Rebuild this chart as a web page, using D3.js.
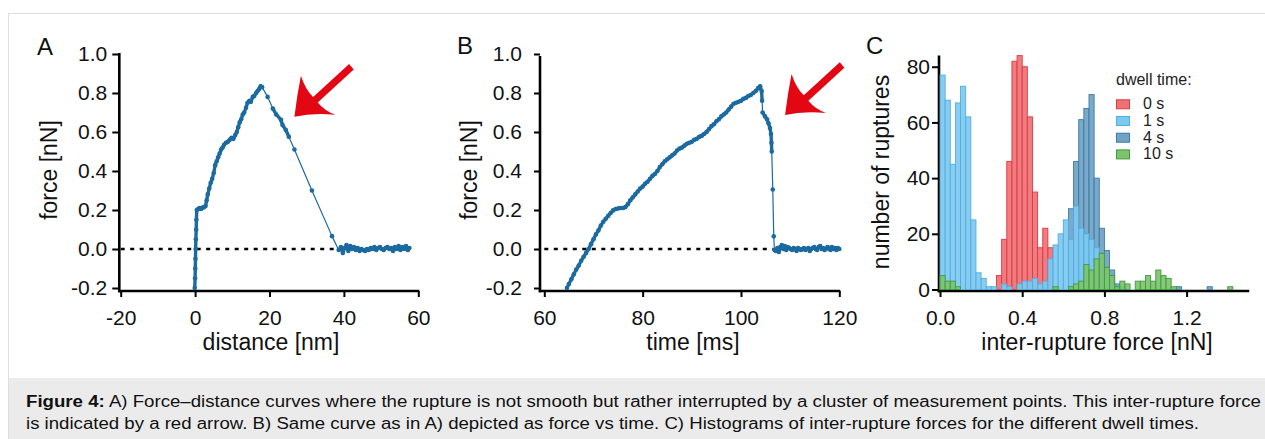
<!DOCTYPE html>
<html>
<head>
<meta charset="utf-8">
<title>Figure 4</title>
<script src="https://d3js.org/d3.v7.min.js"></script>
<style>
body { margin: 0; background: #fff; }
svg { display: block; font-family: "Liberation Sans", Arial, sans-serif; }
.axis line { stroke: #000; stroke-width: 2; }
.axis text { font-size: 21px; fill: #111; }
.title { font-size: 23px; fill: #111; }
</style>
</head>
<body>
<script>
// A) force vs distance
var distA = [-0.1,0.0,0.05,0.1,0.15,0.2,0.3,0.35,0.45,0.8,1.2,1.6,2.0,2.4,2.8,3.1,3.4,3.8,4.2,4.6,5.0,5.4,5.8,6.2,6.6,7.0,7.4,7.8,8.3,8.8,9.3,9.8,10.3,10.8,11.2,11.6,12.0,12.4,12.8,13.2,13.7,14.1,14.6,15.0,15.5,15.9,16.4,16.8,17.2,17.6,18.0,
  19.5,20.9,21.8,23.1,23.5,24.4,25.2,26.7,31.4,36.8,38.6,
  39.2,39.7,40.2,40.7,41.2,41.7,42.2,42.7,43.2,43.7,44.2,44.7,45.2,45.7,46.2,46.7,47.2,47.7,48.2,48.7,49.2,49.7,50.2,50.7,51.2,51.7,52.2,52.7,53.2,53.7,54.2,54.7,55.2,55.7,56.2,56.7,57.2,57.6];
var forceA = [-0.2,-0.15,-0.1,-0.05,0.0,0.05,0.1,0.15,0.2,0.205,0.21,0.205,0.212,0.215,0.22,0.25,0.28,0.31,0.34,0.36,0.39,0.43,0.45,0.47,0.49,0.51,0.52,0.535,0.545,0.55,0.56,0.57,0.565,0.585,0.6,0.625,0.65,0.665,0.69,0.7,0.725,0.75,0.76,0.755,0.78,0.785,0.8,0.81,0.82,0.835,0.83,
  0.78,0.72,0.69,0.662,0.636,0.61,0.576,0.51,0.30,0.066,-0.005,
  0.01,-0.02,0.005,0.02,-0.01,0.015,0.0,0.01,-0.005,0.005,-0.01,0.0,-0.005,-0.01,0.0,-0.005,0.005,0.0,0.01,-0.005,0.005,0.01,0.0,-0.005,0.005,0.01,0.0,0.005,-0.01,0.01,0.0,0.015,-0.005,0.01,0.0,0.015,-0.005,0.005];

// B) force vs time
var timeB = [64.6,65.0,65.5,66.0,66.5,67.0,67.5,68.0,68.5,69.0,69.5,70.0,70.5,71.0,71.5,72.0,72.5,73.0,73.5,74.0,74.5,75.0,75.5,76.0,76.5,77.0,77.5,78.0,78.5,79.0,79.5,80.0,80.5,81.0,81.5,82.0,82.5,83.0,83.5,84.0,84.5,85.0,85.5,86.0,86.5,87.0,87.5,88.0,88.5,89.0,89.5,90.0,90.5,91.0,91.5,92.0,92.5,93.0,93.5,94.0,94.5,95.0,95.5,96.0,96.5,97.0,97.5,98.0,98.5,99.0,99.5,100.0,100.5,101.0,101.5,102.0,102.5,103.0,103.5,103.9,104.2,
  104.3,104.4,104.9,105.3,105.6,105.9,106.1,106.2,106.26,106.47,106.67,106.8,
  107.1,107.4,107.7,108.0,108.3,108.6,108.9,109.2,109.5,109.8,110.1,110.4,110.7,111.0,111.3,111.6,111.9,112.2,112.5,112.8,113.1,113.4,113.7,114.0,114.3,114.6,114.9,115.2,115.5,115.8,116.1,116.4,116.7,117.0,117.3,117.6,117.9,118.2,118.5,118.8,119.1,119.4,119.7,120.0];
var forceB = [-0.2,-0.18,-0.155,-0.13,-0.105,-0.085,-0.06,-0.04,-0.02,0.0,0.025,0.05,0.075,0.095,0.12,
  0.14,0.155,0.17,0.185,0.198,0.205,0.208,0.21,0.21,0.215,0.23,0.25,0.265,0.28,0.295,0.31,0.32,0.335,0.345,0.36,
  0.375,0.385,0.4,0.42,0.435,0.45,0.46,0.47,0.48,0.49,0.505,0.515,0.52,0.53,0.54,0.545,0.55,0.56,0.565,0.575,
  0.58,0.59,0.6,0.615,0.63,0.64,0.655,0.665,0.68,0.69,0.7,0.715,0.73,0.745,0.75,0.755,0.76,0.77,0.775,0.785,
  0.79,0.8,0.81,0.825,0.835,0.81,
  0.76,0.70,0.68,0.665,0.645,0.62,0.59,0.545,0.5,0.305,0.065,-0.005,
  -0.01,0.005,-0.015,0.01,0.02,0.0,0.015,-0.005,0.01,0.005,0.0,-0.005,0.005,0.0,-0.01,0.005,0.0,-0.005,0.0,0.005,
  -0.005,0.0,0.005,-0.01,0.0,0.005,0.01,0.0,-0.005,0.01,0.015,0.0,0.005,-0.005,0.0,0.01,0.005,-0.005,0.01,0.0,
  0.005,-0.005,0.005,0.0];

// C) histograms, bins of 0.025 nN starting at 0
var binWidth = 0.025;
var counts0s = [0,0,0,0,0,0,0,0,0,0, 0,5,18,46,82,84,80,62,35,15, 22,15,0,0,0,0,0,0,0,0, 0,0,0,0,0,0,0,0,0,0, 0,0,0,0,0,0,0,0,0,0, 0,0,0,0,0,0,0,0,0,0];
var counts1s = [77,68,45,67,73,62,25,6,4,1, 1,0,2,1,0,2,3,3,4,2, 3,11,16,20,25,18,30,22,20,18, 15,10,5,2,1,1,0,0,0,0, 0,0,0,0,0,0,0,0,0,0, 0,0,0,0,0,0,0,0,0,0];
var counts4s = [0,0,0,0,0,0,0,0,0,0, 0,0,0,0,0,0,0,0,0,0, 0,0,0,0,0,29,46,61,65,70, 40,22,14,7,2,1,0,0,0,0, 0,0,0,0,0,0,1,0,0,0, 0,0,1,0,0,0,0,0,0,0];
var counts10s = [5,3,3,1,0,0,0,0,0,0, 0,0,0,0,0,0,0,0,0,0, 0,0,1,0,0,1,2,3,9,7, 11,13,8,5,1,3,2,0,3,3, 5,3,7,5,4,1,0,0,0,0, 0,0,0,0,0,0,1,0,0,0];
var dwellLabels = ['0 s', '1 s', '4 s', '10 s'];

var ticksDist = [-20, 0, 20, 40, 60];
var ticksTime = [60, 80, 100, 120];
var ticksForce = [-0.2, 0.0, 0.2, 0.4, 0.6, 0.8, 1.0];
var ticksIrf = [0.0, 0.4, 0.8, 1.2];
var ticksCount = [0, 20, 40, 60, 80];

var caption1 = ' A) Force\u2013distance curves where the rupture is not smooth but rather interrupted by a cluster of measurement points. This inter-rupture force';
var caption2 = 'is indicated by a red arrow. B) Same curve as in A) depicted as force vs time. C) Histograms of inter-rupture forces for the different dwell times.';

var traceColor = '#1b6aa0';
var histFill = ['#ee7176', '#7dc9f1', '#6fa2c4', '#7dc36e'];
var histStroke = ['#e0393f', '#52ade0', '#3d7ba5', '#3f9b3f'];

var svg = d3.select('body').append('svg')
  .attr('width', 1265)
  .attr('height', 439);

// figure frame and caption band
svg.append('rect')
  .attr('x', 8.5).attr('y', 13.5)
  .attr('width', 1270).attr('height', 440)
  .attr('fill', 'none').attr('stroke', '#dedede');
svg.append('rect')
  .attr('x', 9).attr('y', 378)
  .attr('width', 1256).attr('height', 61)
  .attr('fill', '#ebebeb');

var cap = svg.append('text')
  .attr('x', 26).attr('y', 407)
  .attr('font-size', 16).attr('fill', '#111')
  .attr('textLength', 1235).attr('lengthAdjust', 'spacingAndGlyphs');
cap.append('tspan').attr('font-weight', 'bold').text('Figure 4:');
cap.append('tspan').text(caption1);
svg.append('text')
  .attr('x', 26).attr('y', 429)
  .attr('font-size', 16).attr('fill', '#111')
  .attr('textLength', 1173).attr('lengthAdjust', 'spacingAndGlyphs')
  .text(caption2);

var fmt1 = function(d) { return d.toFixed(1); };
var fmt0 = function(d) { return String(d); };

function axes(x, y, opt) {
  var gy = svg.append('g')
    .attr('class', 'axis')
    .attr('transform', 'translate(' + opt.x0 + ',0)')
    .call(d3.axisLeft(y).tickValues(opt.yTicks).tickFormat(opt.yFmt)
      .tickSize(opt.yTick).tickPadding(opt.yPad));
  gy.select('.domain').remove();
  var gx = svg.append('g')
    .attr('class', 'axis')
    .attr('transform', 'translate(0,291)')
    .call(d3.axisBottom(x).tickValues(opt.xTicks).tickFormat(opt.xFmt)
      .tickSize(6).tickPadding(13));
  gx.select('.domain').remove();
  svg.append('line')
    .attr('x1', opt.x0).attr('x2', opt.x0)
    .attr('y1', opt.yTop).attr('y2', 292.3)
    .attr('stroke', '#000').attr('stroke-width', 2.6);
  svg.append('line')
    .attr('x1', opt.x0 - 1.3).attr('x2', x.range()[1] + 1)
    .attr('y1', 291).attr('y2', 291)
    .attr('stroke', '#000').attr('stroke-width', 2.6);
}

function title(text, x, y, rotate) {
  svg.append('text')
    .attr('class', 'title')
    .attr('text-anchor', 'middle')
    .attr('transform', 'translate(' + x + ',' + y + ')' + (rotate ? ' rotate(-90)' : ''))
    .text(text);
}

function letter(text, x, y) {
  svg.append('text')
    .attr('x', x).attr('y', y)
    .attr('font-size', 24).attr('fill', '#111')
    .text(text);
}

// red swoosh arrow, drawn relative to its tip
var arrowPath = 'M0,0 Q2.5,-21 6.5,-41 Q11,-27 18.7,-19.7 L54.7,-52.7 L59.3,-47.3 L23.3,-14.3 Q30,-6 41,-2 Q19,-4.5 0,0 Z';
function arrow(x, y) {
  svg.append('path')
    .attr('d', arrowPath)
    .attr('transform', 'translate(' + x + ',' + y + ')')
    .attr('fill', '#e30613');
}

function trace(x, y, xs, ys, zeroEnd) {
  var pts = d3.zip(xs, ys);
  svg.append('line')
    .attr('x1', x(x.domain()[0])).attr('x2', x(zeroEnd))
    .attr('y1', y(0)).attr('y2', y(0))
    .attr('stroke', '#000').attr('stroke-width', 2.4)
    .attr('stroke-dasharray', '4,5.5');
  // densely sampled stretches read as a thick line, sparse ones as a thin one
  var segs = d3.pairs(pts);
  svg.append('g')
    .selectAll('line')
    .data(segs)
    .enter().append('line')
    .attr('x1', function(d) { return x(d[0][0]); })
    .attr('y1', function(d) { return y(d[0][1]); })
    .attr('x2', function(d) { return x(d[1][0]); })
    .attr('y2', function(d) { return y(d[1][1]); })
    .attr('stroke', traceColor)
    .attr('stroke-linecap', 'round')
    .attr('stroke-width', function(d) {
      var len = Math.hypot(x(d[1][0]) - x(d[0][0]), y(d[1][1]) - y(d[0][1]));
      return len < 11 ? 3.4 : 1.2;
    });
  svg.append('g')
    .selectAll('circle')
    .data(pts)
    .enter().append('circle')
    .attr('cx', function(d) { return x(d[0]); })
    .attr('cy', function(d) { return y(d[1]); })
    .attr('r', 2.3)
    .attr('fill', traceColor);
}

// panel A
var xA = d3.scaleLinear().domain([-20, 60]).range([120.7, 418.3]);
var yF = d3.scaleLinear().domain([-0.2, 1.0]).range([288, 54]);
axes(xA, yF, { x0: 119.3, yTop: 53, xTicks: ticksDist, yTicks: ticksForce, xFmt: fmt0, yFmt: fmt1, yTick: 7, yPad: 5 });
trace(xA, yF, distA, forceA, 38);
arrow(xA(26.7), yF(0.678));
letter('A', 37, 55);
title('force [nN]', 57, 170, true);
title('distance [nm]', 271, 350, false);

// panel B
var xB = d3.scaleLinear().domain([60, 120]).range([544.3, 839.3]);
axes(xB, yF, { x0: 540, yTop: 56, xTicks: ticksTime, yTicks: ticksForce, xFmt: fmt0, yFmt: fmt1, yTick: 6, yPad: 12 });
trace(xB, yF, timeB, forceB, 106.5);
arrow(xB(108.97), yF(0.687));
letter('B', 457, 54);
title('force [nN]', 477, 170, true);
title('time [ms]', 693, 350, false);

// panel C
var xC = d3.scaleLinear().domain([0, 1.5]).range([940, 1248.25]);
var yC = d3.scaleLinear().domain([0, 84]).range([289.5, 55.6]);
axes(xC, yC, { x0: 939, yTop: 55.5, xTicks: ticksIrf, yTicks: ticksCount, xFmt: fmt1, yFmt: fmt0, yTick: 7, yPad: 2 });

var series = [counts0s, counts4s, counts1s, counts10s];
var seriesIdx = [0, 2, 1, 3];
series.forEach(function(counts, k) {
  var s = seriesIdx[k];
  svg.append('g')
    .selectAll('rect')
    .data(counts.map(function(c, i) { return { i: i, c: c }; }).filter(function(d) { return d.c > 0; }))
    .enter().append('rect')
    .attr('x', function(d) { return xC(d.i * binWidth); })
    .attr('width', xC(binWidth) - xC(0))
    .attr('y', function(d) { return yC(d.c); })
    .attr('height', function(d) { return yC(0) - yC(d.c); })
    .attr('fill', histFill[s])
    .attr('fill-opacity', 0.92)
    .attr('stroke', histStroke[s])
    .attr('stroke-width', 0.9);
});

var legend = svg.append('g').attr('font-size', 16).attr('fill', '#222');
legend.append('text').attr('x', 1116).attr('y', 85).text('dwell time:');
dwellLabels.forEach(function(lab, i) {
  var by = 109.3 + i * 16.7;
  legend.append('rect')
    .attr('x', 1116.5).attr('y', by - 9.5)
    .attr('width', 13).attr('height', 9)
    .attr('fill', histFill[i]).attr('stroke', histStroke[i]).attr('stroke-width', 1);
  legend.append('text').attr('x', 1143).attr('y', by).text(lab);
});

letter('C', 866, 54);
title('number of ruptures', 889, 172, true);
title('inter-rupture force [nN]', 1097, 350, false);
</script>
</body>
</html>
